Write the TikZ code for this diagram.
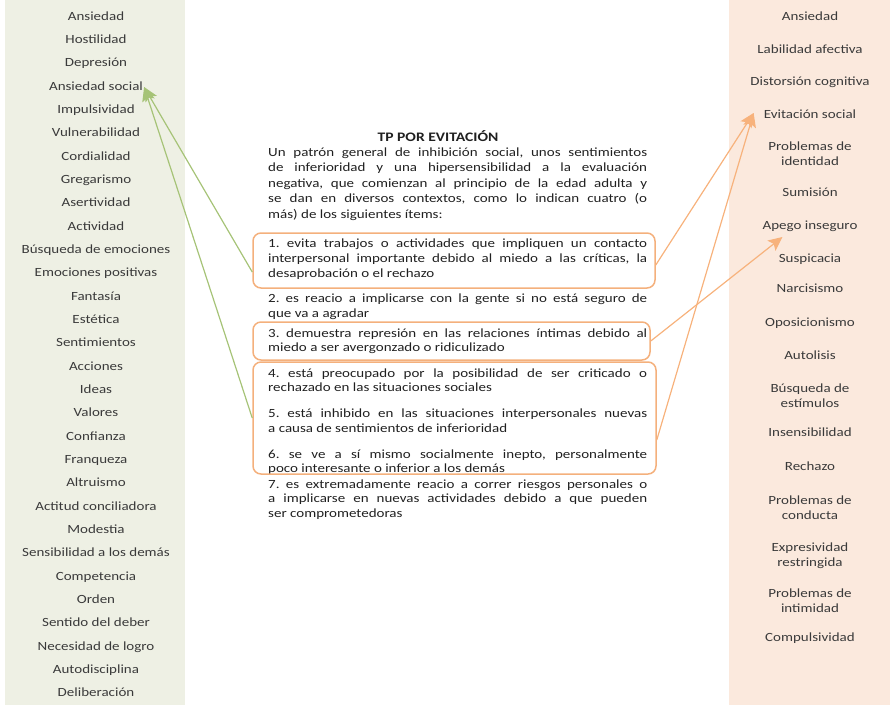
\documentclass[tikz,border=0pt]{standalone}
\usepackage{fontspec}
\setmainfont{Carlito}[FakeStretch=1.2]
\usetikzlibrary{arrows.meta,calc}

\definecolor{leftbg}{HTML}{EEF0E4}
\definecolor{rightbg}{HTML}{FBE9DD}
\definecolor{coltext}{HTML}{3A3A3A}
\definecolor{maintext}{HTML}{202020}
\definecolor{boxline}{HTML}{F4B07C}
\definecolor{greenline}{HTML}{A6C377}
\definecolor{orangeline}{HTML}{F7B27C}

% paragraph settings for the criteria: no hyphenation, loose lines allowed
\newcommand\critsetup{\frenchspacing\hyphenpenalty=10000\relax\tolerance=9999\relax}

\tikzset{
  colitem/.style={inner sep=0pt, text=coltext, align=center,
    font=\fontsize{12.5}{15}\selectfont, text height=9pt, text depth=3pt},
  para/.style={anchor=base west, inner sep=0pt, text width=379pt, align=justify,
    text=maintext, font=\fontsize{12.5}{14.8}\selectfont\critsetup},
  obox/.style={draw=boxline, line width=1.5pt, rounded corners=8pt, inner sep=0pt},
  garrow/.style={draw=greenline, line width=1.2pt,
    -{Stealth[length=14pt,width=13pt,inset=3pt]}},
  oarrow/.style={draw=orangeline, line width=1.2pt,
    -{Stealth[length=14pt,width=13pt,inset=3pt]}},
}

\begin{document}
\begin{tikzpicture}[x=1pt,y=-1pt]
\useasboundingbox (0,0) rectangle (890,705);

% side panels
\fill[leftbg] (5,0) rectangle (185,705);
\fill[rightbg] (729,0) rectangle (890,705);

% left column: personality facets
\foreach \t [count=\i] in {Ansiedad, Hostilidad, Depresión, Ansiedad social,
  Impulsividad, Vulnerabilidad, Cordialidad, Gregarismo, Asertividad, Actividad,
  Búsqueda de emociones, Emociones positivas, Fantasía, Estética, Sentimientos,
  Acciones, Ideas, Valores, Confianza, Franqueza, Altruismo, Actitud conciliadora,
  Modestia, Sensibilidad a los demás, Competencia, Orden, Sentido del deber,
  Necesidad de logro, Autodisciplina, Deliberación}
  \node[colitem] (l\i) at (96, {17+23.34*(\i-1)}) {\t};

% right column: dimensions
\foreach \t/\yy [count=\i] in {Ansiedad/17, Labilidad afectiva/50,
  Distorsión cognitiva/82, Evitación social/115, {Problemas de\\identidad}/162.5,
  Sumisión/193, Apego inseguro/226, Suspicacia/259, Narcisismo/289,
  Oposicionismo/323, Autolisis/356, {Búsqueda de\\estímulos}/404,
  Insensibilidad/433, Rechazo/467, {Problemas de\\conducta}/516,
  {Expresividad\\restringida}/563, {Problemas de\\intimidad}/609,
  Compulsividad/638}
  \node[colitem] (r\i) at (810, \yy) {\t};

% central criteria text
\node[anchor=base, inner sep=0pt, text=maintext,
  font=\fontsize{13}{15}\selectfont\bfseries] (title) at (438, 141) {TP POR EVITACIÓN};

\node[para, font=\fontsize{12.5}{15.5}\selectfont\critsetup] (intro) at (268, 156)
 {Un patrón general de inhibición social, unos sentimientos\linebreak
  de inferioridad y una hipersensibilidad a la evaluación\linebreak
  negativa, que comienzan al principio de la edad adulta y\linebreak
  se dan en diversos contextos, como lo indican cuatro (o\linebreak
  más) de los siguientes ítems:};

\node[para] (i1) at (268, 247.5)
 {1. evita trabajos o actividades que impliquen un contacto\linebreak
  interpersonal importante debido al miedo a las críticas, la\linebreak
  desaprobación o el rechazo};
\node[para] (i2) at (268, 302.5)
 {2. es reacio a implicarse con la gente si no está seguro de\linebreak
  que va a agradar};
\node[para] (i3) at (268, 337)
 {3. demuestra represión en las relaciones íntimas debido al\linebreak
  miedo a ser avergonzado o ridiculizado};
\node[para] (i4) at (268, 377)
 {4. está preocupado por la posibilidad de ser criticado o\linebreak
  rechazado en las situaciones sociales};
\node[para] (i5) at (268, 417.5)
 {5. está inhibido en las situaciones interpersonales nuevas\linebreak
  a causa de sentimientos de inferioridad};
\node[para] (i6) at (268, 458)
 {6. se ve a sí mismo socialmente inepto, personalmente\linebreak
  poco interesante o inferior a los demás};
\node[para] (i7) at (268, 488)
 {7. es extremadamente reacio a correr riesgos personales o\linebreak
  a implicarse en nuevas actividades debido a que pueden\linebreak
  ser comprometedoras};

% highlight frames
\node[obox, minimum width=402pt, minimum height=55pt] (b1) at (454, 260.5) {};
\node[obox, minimum width=397pt, minimum height=38pt] (b3) at (451.5, 341) {};
\node[obox, minimum width=403pt, minimum height=112pt] (b46) at (454.5, 418) {};

% arrow targets
\coordinate (gtip) at ([xshift=1pt]l4.east);
\coordinate (etip) at ([xshift=-10pt,yshift=2pt]r4.west);
\coordinate (atip) at ([xshift=20pt,yshift=-11pt]r7.west);

% connectors
\draw[garrow] ([yshift=-11.5pt]b1.west) -- (gtip);
\draw[garrow] (b46.west) -- (gtip);
\draw[oarrow] ([yshift=-4.5pt]b1.east) -- (etip);
\draw[oarrow] (b3.east) -- (atip);
\draw[oarrow] ([yshift=-22pt]b46.east) -- (etip);
\end{tikzpicture}
\end{document}
